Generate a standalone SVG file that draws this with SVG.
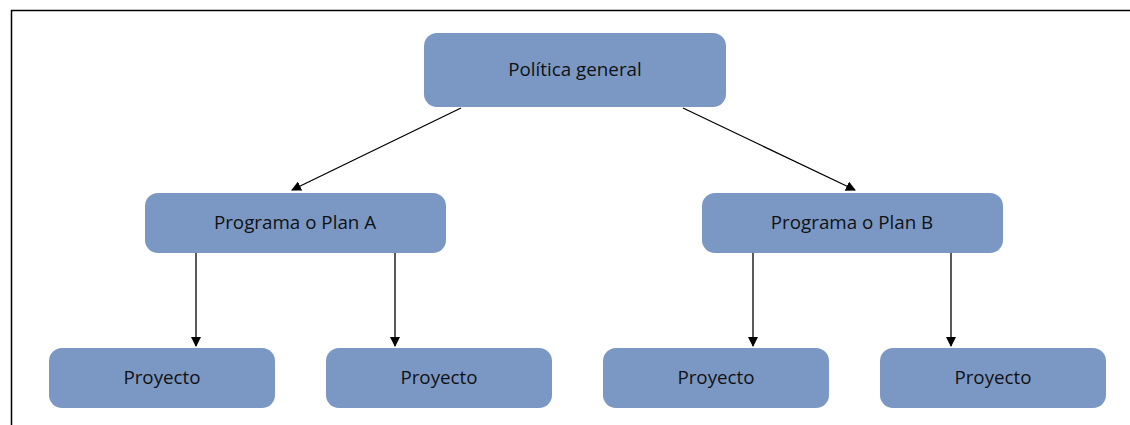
<svg xmlns="http://www.w3.org/2000/svg" width="1130" height="425" viewBox="0 0 1130 425">
  <style>
    .box { fill: #7b98c5; }
    .label { font-family: "Open Sans", "Noto Sans", sans-serif; font-size: 18.8px; fill: #111; text-anchor: middle; dominant-baseline: central; }
    .edge { stroke: #000; stroke-width: 1.3; fill: none; marker-end: url(#arrow); }
    .frame { stroke: #000; stroke-width: 1.5; fill: none; }
  </style>
  <defs>
    <marker id="arrow" viewBox="0 0 10 10" refX="9" refY="5" markerWidth="10" markerHeight="10" markerUnits="userSpaceOnUse" orient="auto">
      <path d="M0,0 L10,5 L0,10 Z" fill="#000"/>
    </marker>
  </defs>

  <!-- page frame: top and left rules -->
  <path class="frame" d="M11.5,425 L11.5,10.5 L1130,10.5"/>

  <g id="politica">
    <rect class="box" x="424" y="33" width="302" height="74" rx="13"/>
    <text class="label" x="575" y="69">Política general</text>
  </g>
  <g id="plan-a">
    <rect class="box" x="145" y="193" width="301" height="60" rx="13"/>
    <text class="label" x="295" y="222">Programa o Plan A</text>
  </g>
  <g id="plan-b">
    <rect class="box" x="702" y="193" width="301" height="60" rx="13"/>
    <text class="label" x="852" y="222">Programa o Plan B</text>
  </g>
  <g id="proyecto-1">
    <rect class="box" x="49" y="348" width="226" height="60" rx="13"/>
    <text class="label" x="162" y="377">Proyecto</text>
  </g>
  <g id="proyecto-2">
    <rect class="box" x="326" y="348" width="226" height="60" rx="13"/>
    <text class="label" x="439" y="377">Proyecto</text>
  </g>
  <g id="proyecto-3">
    <rect class="box" x="603" y="348" width="226" height="60" rx="13"/>
    <text class="label" x="716" y="377">Proyecto</text>
  </g>
  <g id="proyecto-4">
    <rect class="box" x="880" y="348" width="226" height="60" rx="13"/>
    <text class="label" x="993" y="377">Proyecto</text>
  </g>

  <g id="connectors">
    <line class="edge" x1="461" y1="108" x2="292" y2="190"/>
    <line class="edge" x1="683" y1="108" x2="855" y2="190"/>
    <line class="edge" x1="196" y1="253" x2="196" y2="346"/>
    <line class="edge" x1="395" y1="253" x2="395" y2="346"/>
    <line class="edge" x1="753" y1="253" x2="753" y2="346"/>
    <line class="edge" x1="951" y1="253" x2="951" y2="346"/>
  </g>
</svg>
